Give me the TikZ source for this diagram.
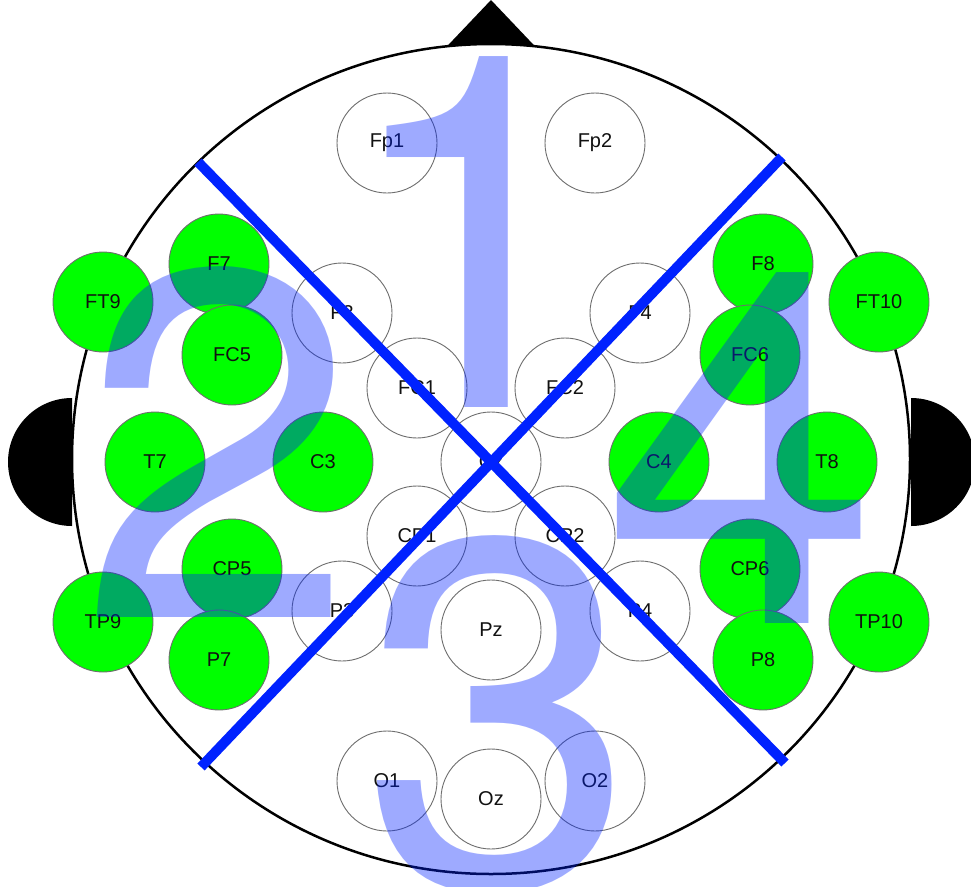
\documentclass[tikz,border=0pt]{standalone}
\usepackage{fontspec}
\setmainfont{Liberation Sans}
\newfontfamily\zonefont{TeX Gyre Heros}
\definecolor{ink}{HTML}{111111}
\definecolor{rim}{HTML}{6E6E6E}
\definecolor{active}{HTML}{00FF00}
\definecolor{divblue}{HTML}{0022FF}
\tikzset{
  site/.style={circle,draw=rim,line width=0.9pt,minimum size=100pt,inner sep=0pt,font=\fontsize{20}{24}\selectfont,text=ink},
  siteon/.style={site,fill=active},
  siteoff/.style={site,fill=white},
  divider/.style={draw=divblue,line width=10pt},
  zone/.style={inner sep=0pt,anchor=base,text=divblue,text opacity=0.38,font=\zonefont\fontsize{495}{495}\selectfont}
}

\begin{document}
\begin{tikzpicture}[x=1pt,y=-1pt]
  \useasboundingbox (0,0) rectangle (971,886);
  % nose, ears, head
  \fill (434,60) -- (491,0) -- (548,60) -- cycle;
  \fill (72,398) arc[start angle=270,end angle=90,radius=64] -- cycle;
  \fill (911,398) arc[start angle=-90,end angle=90,radius=64] -- cycle;
  \draw[line width=2.5pt,fill=white] (491,459) ellipse[x radius=419,y radius=415];

  % electrodes
  \node[siteoff] (Fp1) at (387,143) {Fp1};
  \node[siteoff] (Fp2) at (595,143) {Fp2};
  \node[siteon] (F7) at (219,264) {F7};
  \node[siteoff] (F3) at (342,313) {F3};
  \node[siteoff] (F4) at (640,313) {F4};
  \node[siteon] (F8) at (763,264) {F8};
  \node[siteon] (FT9) at (103,302) {FT9};
  \node[siteon] (FT10) at (879,302) {FT10};
  \node[siteon] (FC5) at (232,355) {FC5};
  \node[siteoff] (FC1) at (417,388) {FC1};
  \node[siteoff] (FC2) at (565,388) {FC2};
  \node[siteon] (FC6) at (750,355) {FC6};
  \node[siteon] (T7) at (155,462) {T7};
  \node[siteon] (C3) at (323,462) {C3};
  \node[siteoff] (Cz) at (491,462) {Cz};
  \node[siteon] (C4) at (659,462) {C4};
  \node[siteon] (T8) at (827,462) {T8};
  \node[siteoff] (CP1) at (417,536) {CP1};
  \node[siteoff] (CP2) at (565,536) {CP2};
  \node[siteon] (CP5) at (232,569) {CP5};
  \node[siteon] (CP6) at (750,569) {CP6};
  \node[siteon] (TP9) at (103,622) {TP9};
  \node[siteon] (TP10) at (879,622) {TP10};
  \node[siteoff] (P3) at (342,611) {P3};
  \node[siteoff] (P4) at (640,611) {P4};
  \node[siteon] (P7) at (219,660) {P7};
  \node[siteon] (P8) at (763,660) {P8};
  \node[siteoff] (Pz) at (491,630) {Pz};
  \node[siteoff] (O1) at (387,781) {O1};
  \node[siteoff] (Oz) at (491,799) {Oz};
  \node[siteoff] (O2) at (595,781) {O2};

  % quadrant split
  \coordinate (ul) at (198,162);
  \coordinate (lr) at (785,763);
  \coordinate (ur) at (782,157);
  \coordinate (ll) at (201,767);
  \draw[divider] (ul) -- (lr);
  \draw[divider] (ur) -- (ll);

  % quadrant numbers
  \node[zone] (q1) at (474,407) {1};
  \node[zone] (q2) at (218,617) {2};
  \node[zone] (q3) at (499,886) {3};
  \node[zone] (q4) at (741,623) {4};
\end{tikzpicture}
\end{document}
